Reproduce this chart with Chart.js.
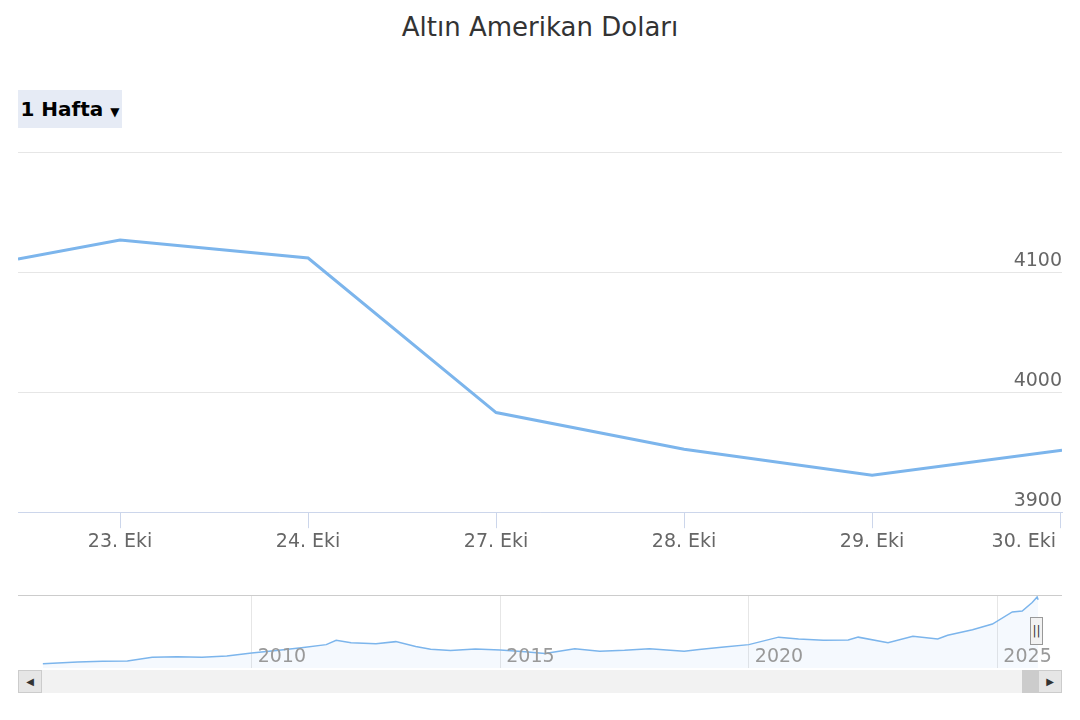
<html>
<head>
<script src="https://cdn.jsdelivr.net/npm/chart.js"></script>
<style>
  body { margin: 0; width: 1080px; height: 720px; background: #fff; font-family: 'DejaVu Sans', sans-serif; position: relative; overflow: hidden; }
  .abs { position: absolute; }
</style>
</head>
<body>
<div class="abs" style="left:0;top:12px;width:1080px;text-align:center;font-size:26px;color:#333;">Altın Amerikan Doları</div>
<div class="abs" style="left:18px;top:90px;width:104px;height:38px;background:#e6ebf5;font-weight:bold;font-size:20px;line-height:38px;text-align:center;color:#000;">1 Hafta <span style="font-size:12px">▼</span></div>
<div class="abs" style="left:0;top:140px;width:1080px;height:420px;"><canvas id="mainChart"></canvas></div>
<div class="abs" style="left:0;top:590px;width:1080px;height:80px;"><canvas id="navChart"></canvas></div>
<!-- navigator handle -->
<div class="abs" style="left:1030px;top:617px;width:11px;height:26px;background:#f2f2f2;border:1px solid #999;font-size:12px;line-height:26px;text-align:center;color:#333;">||</div>
<!-- scrollbar -->
<div class="abs" style="left:18px;top:670px;width:1044px;height:23px;background:#f2f2f2;"></div>
<div class="abs" style="left:18px;top:670px;width:24px;height:23px;background:#e6e6e6;border:1px solid #ccc;box-sizing:border-box;font-size:10px;line-height:21px;text-align:center;color:#333;">◀</div>
<div class="abs" style="left:1022px;top:670px;width:18px;height:23px;background:#ccc;"></div>
<div class="abs" style="left:1038px;top:670px;width:24px;height:23px;background:#e6e6e6;border:1px solid #ccc;box-sizing:border-box;font-size:10px;line-height:21px;text-align:center;color:#333;">▶</div>

<script>
const DAY_LABELS = ['23. Eki', '24. Eki', '27. Eki', '28. Eki', '29. Eki', '30. Eki']
const DAY_POS = [-0.543, 0, 1, 2, 3, 4, 5.01]
const PRICES = [4110.8, 4126.7, 4111.7, 3983, 3952.5, 3930.8, 3951.7]
const Y_TICKS = [3900, 4000, 4100, 4200]

const NAV_YEARS = [2005.8, 2006.5, 2007, 2007.5, 2008, 2008.5, 2009, 2009.5, 2010, 2010.5, 2011, 2011.5, 2011.7, 2012, 2012.5, 2012.9, 2013.3, 2013.6, 2014, 2014.5, 2015, 2015.5, 2015.9, 2016.5, 2017, 2017.5, 2018, 2018.7, 2019, 2019.5, 2020, 2020.6, 2021, 2021.5, 2022, 2022.2, 2022.8, 2023.3, 2023.8, 2024, 2024.5, 2024.9, 2025.3, 2025.5, 2025.7, 2025.8, 2025.82]
const NAV_PRICES = [530, 620, 660, 680, 880, 900, 870, 940, 1100, 1230, 1380, 1550, 1780, 1650, 1600, 1710, 1450, 1300, 1240, 1320, 1260, 1170, 1070, 1330, 1200, 1250, 1330, 1200, 1290, 1420, 1550, 1950, 1850, 1780, 1800, 1950, 1650, 2000, 1850, 2050, 2350, 2650, 3300, 3350, 3800, 4100, 3950]
const NAV_TICKS = [2010, 2015, 2020, 2025]

new Chart(document.getElementById('mainChart'), {
    type: 'line',
    data: {
        datasets: [{
            data: PRICES.map((y, i) => ({ x: DAY_POS[i], y })),
            borderColor: '#7cb5ec',
            borderWidth: 3,
            pointRadius: 0,
            tension: 0,
        }],
    },
    options: {
        responsive: true,
        maintainAspectRatio: false,
        animation: false,
        layout: { padding: { left: 18, right: 18, top: 12, bottom: 5 } },
        plugins: { legend: false, tooltip: { enabled: false } },
        scales: {
            x: {
                type: 'linear',
                min: -0.543,
                max: 5.01,
                afterBuildTicks: (axis) => { axis.ticks = [0, 1, 2, 3, 4, 5].map((v) => ({ value: v })) },
                afterFit: (axis) => { axis.paddingLeft = 0; axis.paddingRight = 0 },
                ticks: {
                    // last label is pushed left so it ends at the plot edge
                    callback: (v) => (v === 5 ? DAY_LABELS[v] + '\u2007\u2007\u2007\u2007\u2007\u2007' : DAY_LABELS[v]),
                    color: '#666',
                    font: { size: 19, family: 'DejaVu Sans' },
                    maxRotation: 0,
                    autoSkip: false,
                    padding: 2,
                },
                grid: { drawOnChartArea: false, tickLength: 16, color: '#ccd6eb' },
                border: { color: '#ccd6eb' },
            },
            y: {
                position: 'right',
                min: 3900,
                max: 4200,
                afterBuildTicks: (axis) => { axis.ticks = Y_TICKS.map((v) => ({ value: v })) },
                afterFit: (axis) => { axis.width = 0 },
                ticks: {
                    mirror: true,
                    padding: 0,
                    labelOffset: -11,
                    callback: (v) => (v === 4200 ? '' : v),
                    color: '#666',
                    font: { size: 19, family: 'DejaVu Sans' },
                },
                grid: { color: '#e6e6e6', drawTicks: false },
                border: { display: false },
            },
        },
    },
})

const navLabels = {
    id: 'navLabels',
    afterDraw(chart) {
        const { ctx, chartArea, scales } = chart
        ctx.save()
        ctx.fillStyle = '#999'
        ctx.font = '19px DejaVu Sans'
        ctx.textBaseline = 'alphabetic'
        NAV_TICKS.forEach((t) => {
            ctx.fillText(String(t), scales.x.getPixelForValue(t) + 6, chartArea.bottom - 6)
        })
        ctx.strokeStyle = '#cccccc'
        ctx.lineWidth = 1
        ctx.beginPath()
        ctx.moveTo(chartArea.left, chartArea.top - 0.5)
        ctx.lineTo(chartArea.right, chartArea.top - 0.5)
        ctx.stroke()
        ctx.restore()
    },
}

new Chart(document.getElementById('navChart'), {
    type: 'line',
    data: {
        datasets: [{
            data: NAV_PRICES.map((y, i) => ({ x: NAV_YEARS[i], y })),
            borderColor: '#7cb5ec',
            backgroundColor: 'rgba(124,181,236,0.08)',
            fill: 'start',
            borderWidth: 1.5,
            pointRadius: 0,
            tension: 0,
        }],
    },
    options: {
        responsive: true,
        maintainAspectRatio: false,
        animation: false,
        layout: { padding: { left: 18, right: 18, top: 6, bottom: 2 } },
        plugins: { legend: false, tooltip: { enabled: false } },
        scales: {
            x: {
                type: 'linear',
                min: 2005.3,
                max: 2026.3,
                afterBuildTicks: (axis) => { axis.ticks = NAV_TICKS.map((v) => ({ value: v })) },
                ticks: { display: false },
                grid: { color: '#e6e6e6', drawTicks: false },
                border: { display: false },
            },
            y: {
                display: false,
                min: 300,
                max: 4150,
            },
        },
    },
    plugins: [navLabels],
})
</script>
</body>
</html>
